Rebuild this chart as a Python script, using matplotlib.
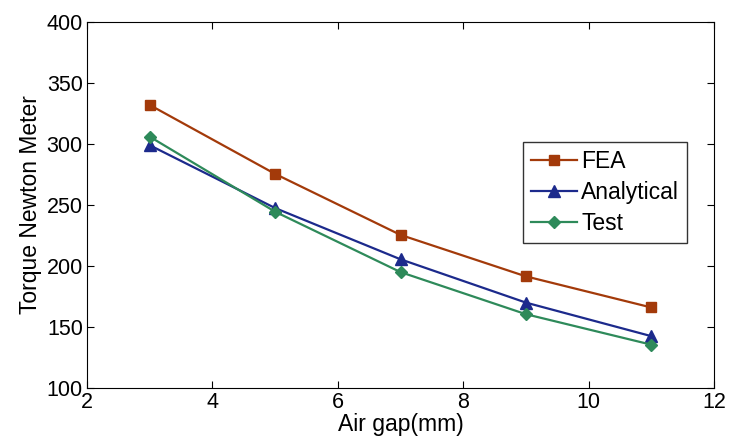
import matplotlib
matplotlib.use("Agg")
import matplotlib.pyplot as plt

plt.rcParams['font.family'] = ['Liberation Sans', 'DejaVu Sans']

air_gap = [3, 5, 7, 9, 11]
fea = [332, 275.5, 225.5, 191.5, 166]
analytical = [299, 247.5, 205.5, 170, 142.5]
test = [306, 244.5, 195, 160.5, 135.5]

fig = plt.figure(figsize=(7.32, 4.44), dpi=100)
ax = fig.add_axes([87 / 732, 56 / 444, 627 / 732, 366 / 444])

ax.plot(air_gap, fea, color='#a33a0a', marker='s', markersize=7, lw=1.6, label='FEA')
ax.plot(air_gap, analytical, color='#1c2a8c', marker='^', markersize=8, lw=1.6, label='Analytical')
ax.plot(air_gap, test, color='#2e8a5a', marker='D', markersize=6.5, lw=1.6, label='Test')

ax.set_xlim(2, 12)
ax.set_ylim(100, 400)
ax.set_xticks([2, 4, 6, 8, 10, 12])
ax.set_yticks([100, 150, 200, 250, 300, 350, 400])
ax.tick_params(direction='in', top=True, right=True, labelsize=15.5, length=5, pad=3)
ax.set_xlabel('Air gap(mm)', fontsize=16.5, labelpad=0)
ax.set_ylabel('Torque Newton Meter', fontsize=16.5, labelpad=3)

leg = ax.legend(loc='upper left', bbox_to_anchor=(0.695, 0.672), fontsize=16.5,
                frameon=True, fancybox=False, edgecolor='#333333', framealpha=1,
                handlelength=2.0, handletextpad=0.2, borderpad=0.35, labelspacing=0.35,
                borderaxespad=0)
leg.get_frame().set_linewidth(1.0)

fig.savefig('out.png', dpi=100)
